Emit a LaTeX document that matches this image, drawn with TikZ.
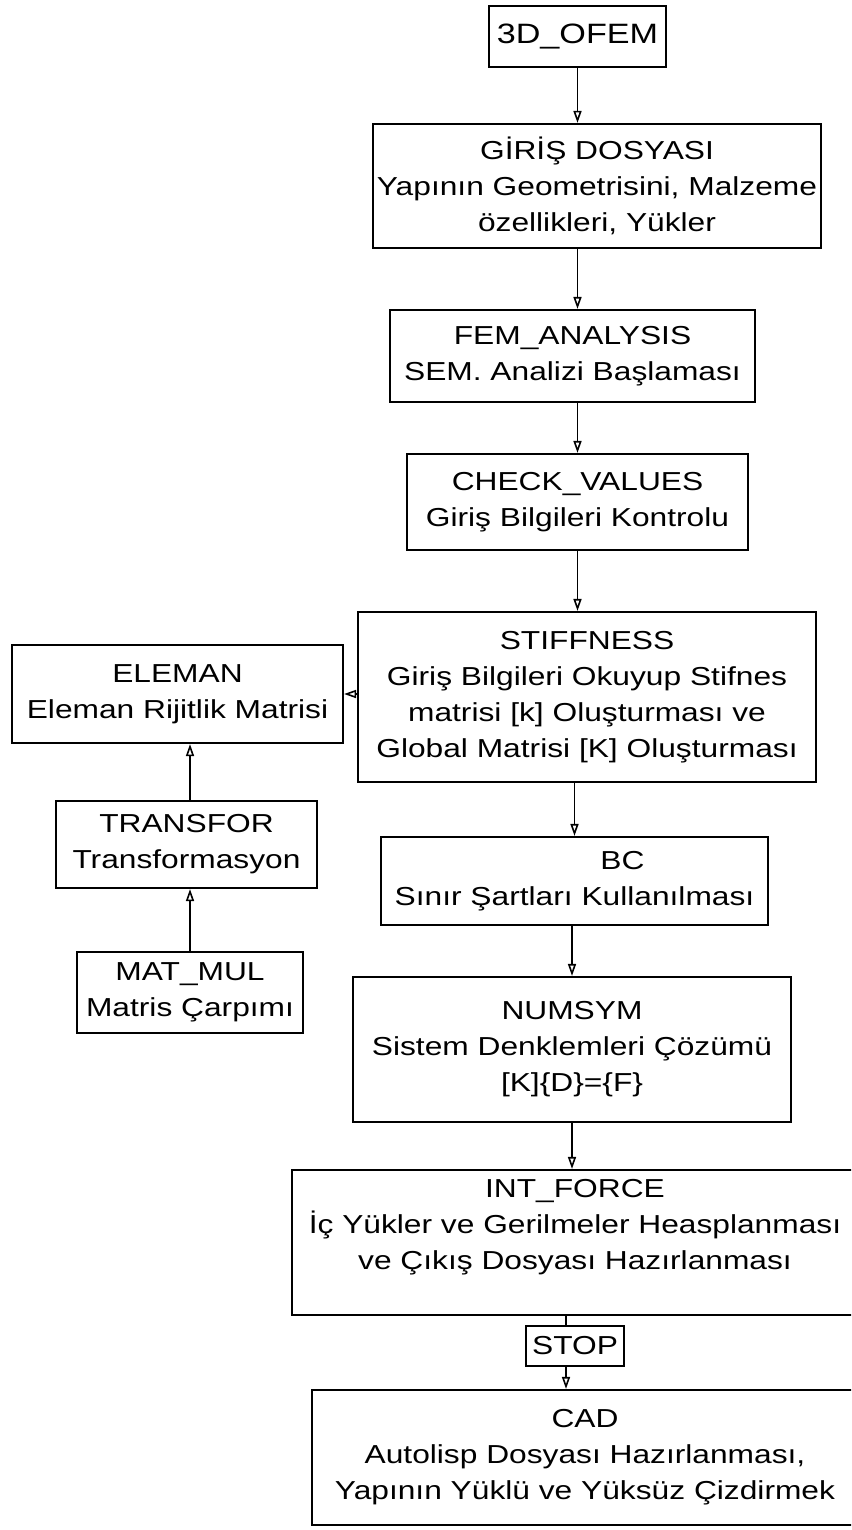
\documentclass[tikz,border=0pt]{standalone}
\usepackage{fontspec}
\setmainfont{Liberation Sans}[FakeStretch=1.22]
\usetikzlibrary{arrows.meta}

\tikzset{
  box/.style={draw, line width=1.1pt, align=center, inner sep=2pt, font=\fontsize{13}{18}\selectfont},
  arr/.style={line width=0.8pt, -{Triangle[open, length=6pt, width=4pt]}}
}

\begin{document}
\begin{tikzpicture}[x=0.5pt, y=-0.5pt]
% page frame (pixels of the scan)
\useasboundingbox (0,0) rectangle (851,1530);
\clip (0,0) rectangle (851,1530);

% Main column
\node[box, minimum width=88.5pt, minimum height=30.5pt, font=\fontsize{14}{18}\selectfont] (ofem) at (577.5,36.5) {3D\_OFEM};
\node[box, minimum width=221pt, minimum height=62pt] (giris) at (597,186) {GİRİŞ DOSYASI\\Yapının Geometrisini, Malzeme\\özellikleri, Yükler};
\node[box, minimum width=182.5pt, minimum height=46pt] (fem) at (572.5,356) {FEM\_ANALYSIS\\SEM. Analizi Başlaması};
\node[box, minimum width=170.5pt, minimum height=48pt] (check) at (577.5,502) {CHECK\_VALUES\\Giriş Bilgileri Kontrolu};
\node[box, minimum width=229pt, minimum height=85pt] (stiff) at (587,697) {STIFFNESS\\Giriş Bilgileri Okuyup Stifnes\\matrisi [k] Oluşturması ve\\Global Matrisi [K] Oluşturması};
\node[box, minimum width=193.5pt, minimum height=44pt] (bc) at (574.5,881) {\hspace*{48pt}BC\\Sınır Şartları Kullanılması};
\node[box, minimum width=219pt, minimum height=72.5pt] (numsym) at (572,1049.5) {NUMSYM\\Sistem Denklemleri Çözümü\\{}[K]\{D\}=\{F\}};
\node[box, minimum width=283pt, minimum height=72.5pt] (intf) at (575,1242.5) {INT\_FORCE\\İç Yükler ve Gerilmeler Heasplanması\\ve Çıkış Dosyası Hazırlanması\\\mbox{}};
\node[box, minimum width=49pt, minimum height=20pt, inner sep=1pt] (stop) at (575,1346) {STOP};
\node[box, minimum width=273pt, minimum height=67.5pt] (cad) at (585,1457.5) {CAD\\Autolisp Dosyası Hazırlanması,\\Yapının Yüklü ve Yüksüz Çizdirmek};

% Side column
\node[box, minimum width=165.5pt, minimum height=49pt] (eleman) at (177.5,694) {ELEMAN\\Eleman Rijitlik Matrisi};
\node[box, minimum width=130.5pt, minimum height=43.5pt] (transfor) at (186.5,844.5) {TRANSFOR\\Transformasyon};
\node[box, minimum width=113pt, minimum height=40.5pt] (matmul) at (190,992.5) {MAT\_MUL\\Matris Çarpımı};

% Connectors
\coordinate (s1) at ([xshift=-4.5pt]stop.north);
\coordinate (s2) at ([xshift=-4.5pt]stop.south);
\draw[arr] (ofem.south) -- (ofem.south |- giris.north);
\draw[arr] (giris.south -| ofem.south) -- (fem.north -| ofem.south);
\draw[arr] (fem.south -| check) -- (check.north);
\draw[arr] (check.south) -- (check.south |- stiff.north);
\draw[arr] (stiff.west |- eleman.east) -- (eleman.east);
\draw[arr] (stiff.south -| bc) -- (bc.north);
\draw[arr] (bc.south -| numsym) -- (numsym.north);
\draw[arr] (numsym.south) -- (numsym.south |- intf.north);
\draw[line width=0.8pt] (s1 |- intf.south) -- (s1);
\draw[arr] (s2) -- (s2 |- cad.north);
\draw[arr] (transfor.north -| matmul) -- (eleman.south -| matmul);
\draw[arr] (matmul.north) -- (matmul.north |- transfor.south);
\end{tikzpicture}
\end{document}
